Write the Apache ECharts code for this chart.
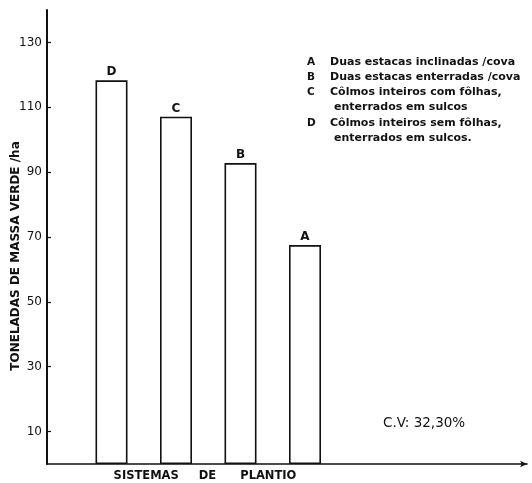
<!DOCTYPE html>
<html><head><meta charset="utf-8">
<script src="https://cdn.jsdelivr.net/npm/echarts@6/dist/echarts.min.js"></script>
<style>html,body{margin:0;padding:0;background:#fff}#c{width:532px;height:483px}</style>
</head><body><div id="c"></div>
<script>
const categories = ['', 'D', 'C', 'B', 'A', '', '', ''];
const values = [null, 118.3, 107.1, 92.8, 67.5, null, null, null];
const yTicks = [10, 30, 50, 70, 90, 110, 130];
const yName = 'TONELADAS DE MASSA VERDE /ha';
const xName = 'SISTEMAS     DE      PLANTIO';
const legendLetters = ['A', 'B', 'C', '', 'D', ''];
const legendTexts = ['Duas estacas inclinadas /cova', 'Duas estacas enterradas /cova', 'Côlmos inteiros com fôlhas,', 'enterrados em sulcos', 'Côlmos inteiros sem fôlhas,', 'enterrados em sulcos.'];
const cvText = 'C.V: 32,30%';

const FONT = 'DejaVu Sans';
const chart = echarts.init(document.getElementById('c'));
const graphics = [];
legendTexts.forEach((t, i) => {
  const y = 63 + i * 14.8 + (i >= 4 ? 1.5 : 0);
  if (legendLetters[i]) graphics.push({type:'text', left: 307, top: y - 6, style:{text: legendLetters[i], font: 'bold 10.5px ' + FONT, fill:'#111'}});
  graphics.push({type:'text', left: legendLetters[i] ? 330 : 334, top: y - 6, style:{text: t, font: 'bold 11px ' + FONT, fill:'#111'}});
});
graphics.push({type:'text', left: 383, top: 416, style:{text: cvText, font: '13.5px ' + FONT, fill:'#111'}});
graphics.push({type:'text', x: 16, y: 256, rotation: Math.PI/2, style:{text: yName, font: 'bold 12px ' + FONT, fill:'#111', align:'center', verticalAlign:'middle'}});
graphics.push({type:'text', x: 205, y: 476, style:{text: xName, font: 'bold 11.5px ' + FONT, fill:'#111', align:'center', verticalAlign:'middle'}});

chart.setOption({
  animation: false,
  grid: [
    {left: 47, top: 10, right: 33.5, bottom: 19},
    {left: 47, top: 10, right: 5, bottom: 19}
  ],
  xAxis: [{
    gridIndex: 0, type: 'category', data: categories, boundaryGap: false,
    axisLine: {show: false}, axisTick: {show: false}, axisLabel: {show: false}, splitLine: {show: false}
  }, {
    gridIndex: 1, type: 'value', min: 0, max: 1,
    axisLine: {show: true, lineStyle: {color: '#111', width: 1.6}, symbol: ['none', 'arrow'], symbolSize: [5, 7]},
    axisTick: {show: false}, axisLabel: {show: false}, splitLine: {show: false}
  }],
  yAxis: [{
    gridIndex: 0, type: 'value', min: 0, max: 140,
    axisLine: {show: true, lineStyle: {color: '#111', width: 2}},
    axisTick: {show: true, inside: true, length: 4, customValues: yTicks, lineStyle: {color: '#111', width: 1.2}},
    axisLabel: {customValues: yTicks, color: '#111', fontFamily: FONT, fontSize: 12, margin: 5},
    splitLine: {show: false}
  }, {
    gridIndex: 1, type: 'value', min: 0, max: 140, show: false
  }],
  graphic: graphics,
  series: [{
    type: 'bar', xAxisIndex: 0, yAxisIndex: 0, data: values, barWidth: 32,
    itemStyle: {color: '#fff', borderColor: '#111', borderWidth: 1.6},
    label: {show: true, position: 'top', distance: 2, formatter: p => categories[p.dataIndex], color: '#111', fontFamily: FONT, fontSize: 12, fontWeight: 'bold'}
  }]
});
</script></body></html>
